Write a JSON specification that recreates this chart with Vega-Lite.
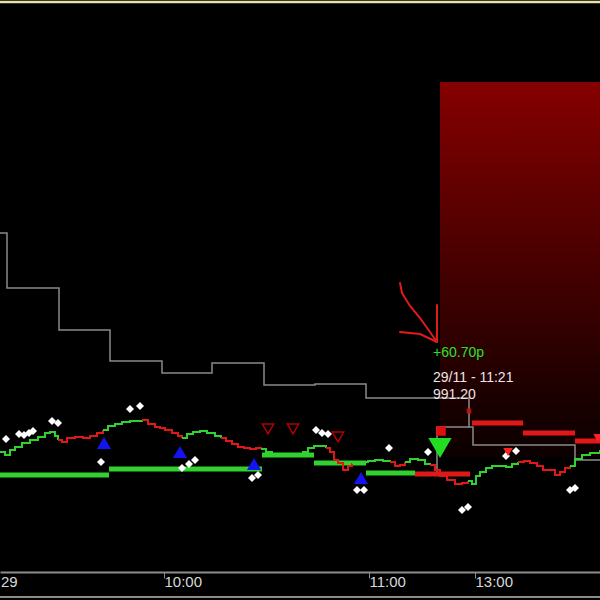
{
  "$schema": "https://vega.github.io/schema/vega-lite/v6.json",
  "width": 600,
  "height": 600,
  "autosize": "none",
  "padding": 0,
  "background": "#000000",
  "config": {"view": {"stroke": null}, "font": "Liberation Sans"},
  "datasets": {
    "price": [
      {"t":0,"p":985.5,"seg":1,"dir":"up"},{"t":5,"p":985.2,"seg":1,"dir":"up"},{"t":10,"p":985.7,"seg":1,"dir":"up"},{"t":15,"p":986.0,"seg":1,"dir":"up"},{"t":22,"p":986.4,"seg":1,"dir":"up"},{"t":30,"p":986.7,"seg":1,"dir":"up"},{"t":38,"p":987.0,"seg":1,"dir":"up"},{"t":45,"p":987.4,"seg":1,"dir":"up"},{"t":50,"p":987.5,"seg":1,"dir":"up"},{"t":55,"p":987.1,"seg":1,"dir":"up"},{"t":58,"p":986.7,"seg":1,"dir":"up"},
      {"t":58,"p":986.7,"seg":2,"dir":"down"},{"t":62,"p":986.5,"seg":2,"dir":"down"},{"t":67,"p":986.9,"seg":2,"dir":"down"},{"t":75,"p":987.0,"seg":2,"dir":"down"},{"t":83,"p":986.9,"seg":2,"dir":"down"},{"t":90,"p":987.1,"seg":2,"dir":"down"},{"t":97,"p":987.4,"seg":2,"dir":"down"},{"t":103,"p":987.7,"seg":2,"dir":"down"},
      {"t":103,"p":987.7,"seg":3,"dir":"up"},{"t":108,"p":988.1,"seg":3,"dir":"up"},{"t":115,"p":988.3,"seg":3,"dir":"up"},{"t":122,"p":988.5,"seg":3,"dir":"up"},{"t":130,"p":988.6,"seg":3,"dir":"up"},{"t":137,"p":988.6,"seg":3,"dir":"up"},{"t":142,"p":988.7,"seg":3,"dir":"up"},
      {"t":142,"p":988.7,"seg":4,"dir":"down"},{"t":148,"p":988.3,"seg":4,"dir":"down"},{"t":155,"p":988.0,"seg":4,"dir":"down"},{"t":160,"p":987.9,"seg":4,"dir":"down"},{"t":165,"p":987.7,"seg":4,"dir":"down"},{"t":172,"p":987.4,"seg":4,"dir":"down"},{"t":178,"p":987.1,"seg":4,"dir":"down"},{"t":182,"p":986.9,"seg":4,"dir":"down"},
      {"t":182,"p":986.9,"seg":5,"dir":"up"},{"t":187,"p":987.3,"seg":5,"dir":"up"},{"t":193,"p":987.5,"seg":5,"dir":"up"},{"t":200,"p":987.6,"seg":5,"dir":"up"},{"t":207,"p":987.4,"seg":5,"dir":"up"},{"t":215,"p":987.1,"seg":5,"dir":"up"},{"t":221,"p":986.9,"seg":5,"dir":"up"},
      {"t":221,"p":986.9,"seg":6,"dir":"down"},{"t":226,"p":986.6,"seg":6,"dir":"down"},{"t":232,"p":986.3,"seg":6,"dir":"down"},{"t":238,"p":986.0,"seg":6,"dir":"down"},{"t":244,"p":985.9,"seg":6,"dir":"down"},{"t":250,"p":985.8,"seg":6,"dir":"down"},{"t":256,"p":985.9,"seg":6,"dir":"down"},{"t":261,"p":985.8,"seg":6,"dir":"down"},
      {"t":261,"p":985.8,"seg":7,"dir":"up"},{"t":266,"p":985.5,"seg":7,"dir":"up"},{"t":272,"p":985.2,"seg":7,"dir":"up"},{"t":280,"p":985.2,"seg":7,"dir":"up"},{"t":288,"p":985.1,"seg":7,"dir":"up"},{"t":296,"p":985.2,"seg":7,"dir":"up"},{"t":303,"p":985.5,"seg":7,"dir":"up"},{"t":308,"p":985.9,"seg":7,"dir":"up"},{"t":314,"p":986.1,"seg":7,"dir":"up"},{"t":320,"p":986.1,"seg":7,"dir":"up"},{"t":326,"p":985.9,"seg":7,"dir":"up"},
      {"t":326,"p":985.9,"seg":8,"dir":"down"},{"t":330,"p":985.5,"seg":8,"dir":"down"},{"t":334,"p":984.7,"seg":8,"dir":"down"},{"t":338,"p":984.4,"seg":8,"dir":"down"},{"t":343,"p":983.7,"seg":8,"dir":"down"},{"t":348,"p":984.1,"seg":8,"dir":"down"},{"t":352,"p":984.4,"seg":8,"dir":"down"},
      {"t":352,"p":984.4,"seg":9,"dir":"up"},{"t":360,"p":984.5,"seg":9,"dir":"up"},{"t":368,"p":984.6,"seg":9,"dir":"up"},{"t":375,"p":984.7,"seg":9,"dir":"up"},{"t":383,"p":984.6,"seg":9,"dir":"up"},{"t":390,"p":984.5,"seg":9,"dir":"up"},
      {"t":390,"p":984.5,"seg":10,"dir":"down"},{"t":395,"p":984.1,"seg":10,"dir":"down"},{"t":400,"p":984.2,"seg":10,"dir":"down"},{"t":405,"p":984.5,"seg":10,"dir":"down"},
      {"t":405,"p":984.5,"seg":11,"dir":"up"},{"t":410,"p":984.8,"seg":11,"dir":"up"},{"t":418,"p":984.7,"seg":11,"dir":"up"},{"t":425,"p":984.3,"seg":11,"dir":"up"},{"t":430,"p":984.2,"seg":11,"dir":"up"},
      {"t":430,"p":984.2,"seg":12,"dir":"down"},{"t":435,"p":983.7,"seg":12,"dir":"down"},{"t":440,"p":983.1,"seg":12,"dir":"down"},{"t":447,"p":982.7,"seg":12,"dir":"down"},{"t":455,"p":982.3,"seg":12,"dir":"down"},{"t":462,"p":982.4,"seg":12,"dir":"down"},{"t":468,"p":982.6,"seg":12,"dir":"down"},
      {"t":468,"p":982.6,"seg":13,"dir":"up"},{"t":472,"p":982.3,"seg":13,"dir":"up"},{"t":476,"p":983.1,"seg":13,"dir":"up"},{"t":480,"p":983.5,"seg":13,"dir":"up"},{"t":486,"p":983.9,"seg":13,"dir":"up"},{"t":492,"p":984.1,"seg":13,"dir":"up"},{"t":500,"p":984.1,"seg":13,"dir":"up"},{"t":506,"p":984.0,"seg":13,"dir":"up"},{"t":512,"p":984.3,"seg":13,"dir":"up"},{"t":518,"p":984.5,"seg":13,"dir":"up"},
      {"t":518,"p":984.5,"seg":14,"dir":"down"},{"t":524,"p":984.6,"seg":14,"dir":"down"},{"t":530,"p":984.4,"seg":14,"dir":"down"},{"t":537,"p":984.1,"seg":14,"dir":"down"},{"t":543,"p":983.7,"seg":14,"dir":"down"},{"t":549,"p":983.7,"seg":14,"dir":"down"},{"t":555,"p":983.2,"seg":14,"dir":"down"},{"t":560,"p":983.5,"seg":14,"dir":"down"},{"t":565,"p":983.9,"seg":14,"dir":"down"},{"t":570,"p":984.1,"seg":14,"dir":"down"},
      {"t":570,"p":984.1,"seg":15,"dir":"up"},{"t":575,"p":984.8,"seg":15,"dir":"up"},{"t":582,"p":985.2,"seg":15,"dir":"up"},{"t":590,"p":985.4,"seg":15,"dir":"up"},{"t":600,"p":985.7,"seg":15,"dir":"up"}
    ],
    "levels": [
      {"t":0,"t2":109,"p":983.2,"dir":"up"},{"t":109,"t2":262,"p":983.8,"dir":"up"},{"t":262,"t2":314,"p":985.2,"dir":"up"},{"t":314,"t2":366,"p":984.4,"dir":"up"},{"t":366,"t2":415,"p":983.4,"dir":"up"},
      {"t":415,"t2":470,"p":983.3,"dir":"down"},{"t":472,"t2":523,"p":988.4,"dir":"down"},{"t":523,"t2":575,"p":987.4,"dir":"down"},{"t":575,"t2":600,"p":986.6,"dir":"down"}
    ],
    "stop": [
      {"t":0,"p":1007.4},{"t":7,"p":1001.9},{"t":59,"p":997.7},{"t":110,"p":994.6},{"t":162,"p":993.4},{"t":212,"p":994.4},{"t":264,"p":992.2},{"t":315,"p":992.3},{"t":366,"p":990.9},{"t":469,"p":988.0},{"t":473,"p":986.2},{"t":575,"p":984.7},{"t":600,"p":984.7}
    ],
    "frame": [{"t":437,"p":983.4,"i":0},{"t":437,"p":988.0,"i":1},{"t":469,"p":988.0,"i":2}],
    "ticks": [
      {"t":6,"p":986.8},{"t":19,"p":987.3},{"t":24,"p":987.2},{"t":29,"p":987.4},{"t":33,"p":987.6},{"t":52,"p":988.6},{"t":58,"p":988.4},{"t":101,"p":984.5},{"t":130,"p":989.8},{"t":140,"p":990.1},{"t":182,"p":983.9},{"t":189,"p":984.3},{"t":195,"p":984.7},{"t":252,"p":982.9},{"t":258,"p":983.2},{"t":316,"p":987.7},{"t":322,"p":987.4},{"t":328,"p":987.3},{"t":389,"p":985.9},{"t":357,"p":981.7},{"t":364,"p":981.7},{"t":428,"p":985.5},{"t":506,"p":985.1},{"t":516,"p":985.6},{"t":462,"p":979.7},{"t":468,"p":980.0},{"t":570,"p":981.7},{"t":575,"p":981.9}
    ],
    "buys": [{"t":104,"p":986.4},{"t":180,"p":985.5},{"t":254,"p":984.3},{"t":361,"p":982.9}],
    "sellsig": [{"t":268,"p":987.8},{"t":293,"p":987.8},{"t":338,"p":987.0}],
    "arrow": [
      {"t":400,"p":1002.4,"s":"a","i":0},{"t":402,"p":1001.4,"s":"a","i":1},{"t":410,"p":1000.1,"s":"a","i":2},{"t":420,"p":998.9,"s":"a","i":3},{"t":430,"p":997.5,"s":"a","i":4},{"t":437,"p":996.5,"s":"a","i":5},
      {"t":437,"p":1000.2,"s":"b","i":0},{"t":437,"p":996.5,"s":"b","i":1},
      {"t":400,"p":997.5,"s":"c","i":0},{"t":420,"p":997.3,"s":"c","i":1},{"t":437,"p":996.5,"s":"c","i":2}
    ]
  },
  "encoding": {
    "x": {
      "field": "t", "type": "quantitative",
      "scale": {"domain": [0, 600], "nice": false, "zero": false},
      "axis": {
        "values": [164, 369, 475],
        "labelExpr": "datum.value == 164 ? '10:00' : datum.value == 369 ? '11:00' : '13:00'",
        "offset": -28, "grid": false, "title": null,
        "domainColor": "#8c8c8c", "domainWidth": 2,
        "tickColor": "#8c8c8c", "tickSize": 6, "tickWidth": 1,
        "labelColor": "#d8d8d8", "labelFontSize": 15, "labelFont": "Liberation Sans",
        "labelAlign": "left", "labelDx": 3, "labelBaseline": "top", "labelPadding": -4
      }
    },
    "y": {
      "field": "p", "type": "quantitative",
      "scale": {"domain": [970.7, 1030.7], "nice": false, "zero": false},
      "axis": null
    }
  },
  "layer": [
    {
      "data": {"values": [{"t": 440, "t2": 600, "p": 1022.5, "p2": 985.0}]},
      "mark": {"type": "rect", "color": {"gradient": "linear", "x1": 0, "y1": 0, "x2": 0, "y2": 1, "stops": [{"offset": 0, "color": "#860000"}, {"offset": 0.45, "color": "#4c0000"}, {"offset": 0.85, "color": "#1a0000"}, {"offset": 1, "color": "#0c0000"}]}},
      "encoding": {"x2": {"field": "t2"}, "y2": {"field": "p2"}}
    },
    {
      "data": {"values": [{"t": 0, "t2": 600, "p": 1030.5}]},
      "mark": {"type": "rule", "color": "#e8e2a8", "strokeWidth": 2.5},
      "encoding": {"x2": {"field": "t2"}}
    },
    {
      "data": {"values": [{"t": 0, "t2": 600, "p": 971.0}]},
      "mark": {"type": "rule", "color": "#8c8c8c", "strokeWidth": 2},
      "encoding": {"x2": {"field": "t2"}}
    },
    {
      "data": {"name": "stop"},
      "mark": {"type": "line", "interpolate": "step-after", "color": "#8a8a8a", "strokeWidth": 1.5},
      "encoding": {}
    },
    {
      "data": {"name": "frame"},
      "mark": {"type": "line", "color": "#8a8a8a", "strokeWidth": 1.5},
      "encoding": {"order": {"field": "i"}}
    },
    {
      "data": {"name": "levels"},
      "mark": {"type": "rule", "strokeWidth": 5},
      "encoding": {
        "x2": {"field": "t2"},
        "color": {"field": "dir", "type": "nominal", "scale": {"domain": ["up", "down"], "range": ["#2fd22f", "#e01818"]}, "legend": null}
      }
    },
    {
      "data": {"name": "price"},
      "mark": {"type": "line", "interpolate": "step-after", "strokeWidth": 2},
      "encoding": {
        "detail": {"field": "seg"},
        "color": {"field": "dir", "type": "nominal", "scale": {"domain": ["up", "down"], "range": ["#2fd22f", "#e01818"]}, "legend": null}
      }
    },
    {
      "data": {"name": "ticks"},
      "mark": {"type": "point", "shape": "diamond", "filled": true, "color": "#ffffff", "opacity": 1, "size": 65},
      "encoding": {}
    },
    {
      "data": {"name": "buys"},
      "mark": {"type": "point", "shape": "triangle-up", "filled": true, "color": "#1414ee", "opacity": 1, "size": 200},
      "encoding": {}
    },
    {
      "data": {"name": "sellsig"},
      "mark": {"type": "point", "shape": "triangle-down", "filled": false, "color": "#b40000", "opacity": 1, "size": 130, "strokeWidth": 1.5},
      "encoding": {}
    },
    {
      "data": {"values": [{"t": 441, "p": 987.6}]},
      "mark": {"type": "point", "shape": "square", "filled": true, "color": "#e01010", "opacity": 1, "size": 90},
      "encoding": {}
    },
    {
      "data": {"values": [{"t": 469, "p": 989.6}]},
      "mark": {"type": "point", "shape": "square", "filled": true, "color": "#c01010", "opacity": 1, "size": 22},
      "encoding": {}
    },
    {
      "data": {"values": [{"t": 440, "p": 985.9}]},
      "mark": {"type": "point", "shape": "triangle-down", "filled": true, "color": "#22dd22", "opacity": 1, "size": 540},
      "encoding": {}
    },
    {
      "data": {"values": [{"t": 508, "p": 985.5}, {"t": 598, "p": 986.9}]},
      "mark": {"type": "point", "shape": "triangle-down", "filled": true, "color": "#ff2020", "opacity": 1, "size": 90},
      "encoding": {}
    },
    {
      "data": {"name": "arrow"},
      "mark": {"type": "line", "color": "#e41a1a", "strokeWidth": 2, "strokeCap": "round"},
      "encoding": {"detail": {"field": "s"}, "order": {"field": "i"}}
    },
    {
      "data": {"values": [{"t": 433, "p": 995.4, "label": "+60.70p"}]},
      "mark": {"type": "text", "align": "left", "baseline": "middle", "fontSize": 14, "font": "Liberation Sans", "color": "#2ee02e"},
      "encoding": {"text": {"field": "label"}}
    },
    {
      "data": {"values": [{"t": 433, "p": 992.9, "label": "29/11 - 11:21"}, {"t": 433, "p": 991.2, "label": "991.20"}]},
      "mark": {"type": "text", "align": "left", "baseline": "middle", "fontSize": 14, "font": "Liberation Sans", "color": "#f0e4e4"},
      "encoding": {"text": {"field": "label"}}
    },
    {
      "data": {"values": [{"t": 0, "p": 972.5, "label": "29"}]},
      "mark": {"type": "text", "align": "left", "baseline": "middle", "fontSize": 15, "font": "Liberation Sans", "color": "#d8d8d8", "dx": 1},
      "encoding": {"text": {"field": "label"}}
    }
  ]
}
